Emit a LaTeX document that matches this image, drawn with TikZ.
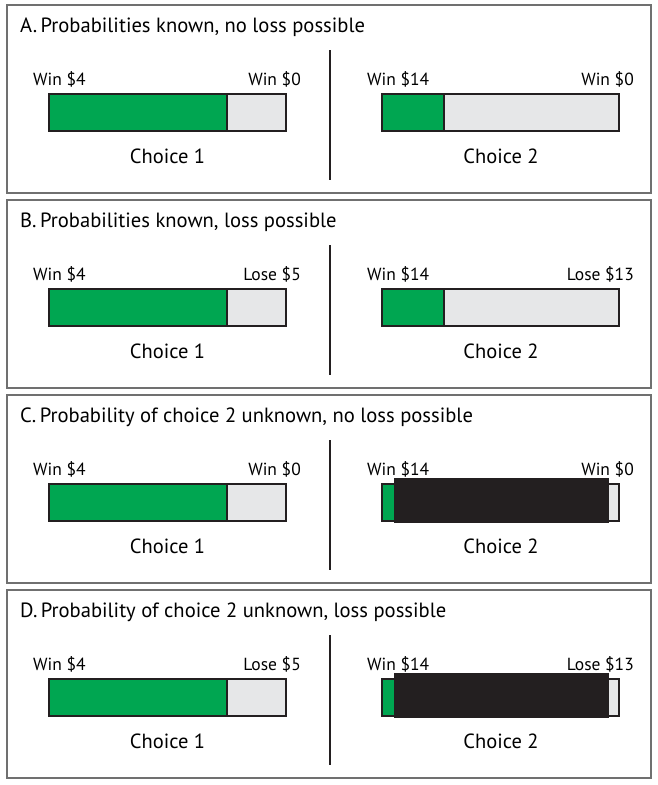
\documentclass[tikz,border=0pt]{standalone}
\usepackage{fontspec}
\setmainfont{PT Sans}
\definecolor{cgreen}{HTML}{00A651}
\definecolor{cgray}{HTML}{E6E7E8}
\definecolor{cblack}{HTML}{231F20}
\definecolor{cframe}{HTML}{707070}
\tikzset{
  frame/.style={draw=cframe, line width=1.4pt},
  titletext/.style={anchor=base west, inner sep=0pt, font=\fontsize{20.6}{24}\selectfont},
  outlabel/.style={inner sep=0pt, font=\fontsize{17.5}{20}\selectfont},
  choicetext/.style={anchor=base, inner sep=0pt, font=\fontsize{20.5}{24}\selectfont},
  barline/.style={draw=cblack, line width=1.2pt},
  divider/.style={draw=cblack, line width=2pt},
}
\newcommand\mypanel[6]{%
  \begin{scope}[yshift=-#2pt]
    \draw[frame] (7,0) rectangle (651,188);
    \node[titletext] (#1title) at (20,27) {#3};
    % choice 1
    \fill[cgreen] (49,89) rectangle (227,126);
    \fill[cgray] (227,89) rectangle (286,126);
    \draw[barline] (49,89) rectangle (286,126);
    \draw[barline] (227,89) -- (227,126);
    \node[outlabel, anchor=base west] (#1la) at (33,80) {Win \$4};
    \node[outlabel, anchor=base east] (#1ra) at (301,80) {#4};
    \node[choicetext] (#1ca) at (167.5,158) {Choice 1};
    % divider
    \coordinate (#1dt) at (330,45);
    \coordinate (#1db) at (330,175);
    \draw[divider] (#1dt) -- (#1db);
    % choice 2
    \fill[cgreen] (382,89) rectangle (444,126);
    \fill[cgray] (444,89) rectangle (619,126);
    \draw[barline] (382,89) rectangle (619,126);
    \draw[barline] (444,89) -- (444,126);
    \ifnum#6=1
      \fill[cblack] (394,83) rectangle (609,128);
    \fi
    \node[outlabel, anchor=base west] (#1lb) at (367,80) {Win \$14};
    \node[outlabel, anchor=base east] (#1rb) at (634,80) {#5};
    \node[choicetext] (#1cb) at (501,158) {Choice 2};
  \end{scope}
}
\begin{document}
\begin{tikzpicture}[x=1pt,y=-1pt]
\fill[white] (0,0) rectangle (657,785);
\useasboundingbox (0,0) rectangle (657,785);
\mypanel{A}{5}{A.\,Probabilities known, no loss possible}{Win \$0}{Win \$0}{0}
\mypanel{B}{200}{B.\,Probabilities known, loss possible}{Lose \$5}{Lose \$13}{0}
\mypanel{C}{395}{C.\,Probability of choice 2 unknown, no loss possible}{Win \$0}{Win \$0}{1}
\mypanel{D}{590}{D.\,Probability of choice 2 unknown, loss possible}{Lose \$5}{Lose \$13}{1}
\end{tikzpicture}
\end{document}
